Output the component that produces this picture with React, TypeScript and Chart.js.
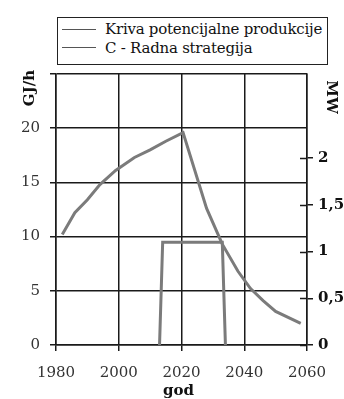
import React, { useEffect, useRef } from "react";
import { Chart, registerables } from "chart.js";

Chart.register(...registerables);

const potYears = [1982, 1986, 1990, 1994, 1999, 2005, 2010, 2015, 2020.5, 2028, 2033, 2038, 2042, 2046, 2050, 2058];
const potValues = [10.2, 12.2, 13.4, 14.8, 16.1, 17.3, 18.0, 18.8, 19.6, 12.6, 9.3, 6.8, 5.2, 4.1, 3.1, 2.0];
const stratYears = [2013, 2014, 2033, 2034];
const stratValues = [0, 1.1, 1.1, 0];
const xTicks = [1980, 2000, 2020, 2040, 2060];
const mwTicks = [0, 0.5, 1, 1.5, 2];
const legendLabels = ["Kriva potencijalne produkcije", "C - Radna strategija"];

const SERIF = "'DejaVu Serif', 'Liberation Serif', serif";
const GRID = "#1a1a1a";
const LINE = "#7b7b7b";

const titlesPlugin = {
  id: "titles",
  afterDraw(chart: any) {
    const ctx = chart.ctx;
    const area = chart.chartArea;
    ctx.save();
    ctx.fillStyle = "#111";
    ctx.font = `bold 15px ${SERIF}`;
    ctx.textAlign = "center";
    ctx.textBaseline = "middle";
    ctx.save();
    ctx.translate(30, 88);
    ctx.rotate(-Math.PI / 2);
    ctx.fillText("GJ/h", 0, 0);
    ctx.restore();
    ctx.save();
    ctx.translate(331, 97);
    ctx.rotate(Math.PI / 2);
    ctx.fillText("MW", 0, 0);
    ctx.restore();
    ctx.fillText("god", (area.left + area.right) / 2 - 3, 391);
    const y1 = chart.scales.y1;
    ctx.strokeStyle = GRID;
    ctx.lineWidth = 1.5;
    ctx.beginPath();
    for (const v of mwTicks) {
      const py = Math.round(y1.getPixelForValue(v)) + 0.5;
      ctx.moveTo(area.right - 7, py);
      ctx.lineTo(area.right, py);
    }
    ctx.stroke();
    ctx.restore();
  },
};

export default function App() {
  const ref = useRef<HTMLCanvasElement | null>(null);
  useEffect(() => {
    document.body.style.margin = "0";
    document.body.style.overflow = "hidden";
    const canvas = ref.current!;
    const chart = new Chart(canvas, {
      type: "line",
      data: {
        datasets: [
          {
            label: legendLabels[0],
            data: potYears.map((x, i) => ({ x, y: potValues[i] })),
            yAxisID: "y",
            borderColor: LINE,
            borderWidth: 3,
            pointRadius: 0,
            tension: 0,
          },
          {
            label: legendLabels[1],
            data: stratYears.map((x, i) => ({ x, y: stratValues[i] })),
            yAxisID: "y1",
            borderColor: LINE,
            borderWidth: 3,
            pointRadius: 0,
            tension: 0,
          },
        ],
      },
      options: {
        animation: false,
        responsive: false,
        layout: { padding: { top: 74, left: 0, right: 0, bottom: 0 } },
        plugins: { legend: { display: false }, tooltip: { enabled: false } },
        scales: {
          x: {
            type: "linear",
            min: 1980,
            max: 2060,
            afterBuildTicks: (s: any) => {
              s.ticks = xTicks.map((v) => ({ value: v }));
            },
            afterFit: (s: any) => {
              s.height = 54;
            },
            ticks: {
              color: "#333",
              font: { family: SERIF, size: 15 },
              padding: 13,
              maxRotation: 0,
              callback: (v: any) => String(v),
            },
            grid: { color: GRID, lineWidth: 1.5, tickLength: 6 },
            border: { color: GRID, width: 1.5 },
          },
          y: {
            position: "left",
            min: 0,
            max: 25,
            ticks: {
              stepSize: 5,
              color: "#333",
              font: { family: SERIF, size: 15 },
              padding: 10,
              callback: (v: any) => (v === 25 ? "" : String(v)),
            },
            afterFit: (s: any) => {
              s.width = 56;
            },
            grid: { color: GRID, lineWidth: 1.5, tickLength: 6 },
            border: { color: GRID, width: 1.5 },
          },
          y1: {
            position: "right",
            min: 0,
            max: 2.9,
            afterBuildTicks: (s: any) => {
              s.ticks = mwTicks.map((v) => ({ value: v }));
            },
            afterFit: (s: any) => {
              s.width = 37;
            },
            ticks: {
              color: "#111",
              font: { family: SERIF, size: 15, weight: "bold" },
              padding: 5,
              callback: (v: any) => String(v).replace(".", ","),
            },
            grid: { drawOnChartArea: false, color: GRID, lineWidth: 1.5, tickLength: 6 },
            border: { color: GRID, width: 1.5 },
          },
        },
      },
      plugins: [titlesPlugin],
    } as any);
    return () => chart.destroy();
  }, []);

  const legendRow = (label: string) => (
    <div style={{ display: "flex", alignItems: "center", height: 18.5 }}>
      <span style={{ display: "inline-block", width: 34, height: 0, borderTop: "1.5px solid #555", marginLeft: 4, marginRight: 9 }} />
      <span style={{ whiteSpace: "nowrap", letterSpacing: "-0.25px" }}>{label}</span>
    </div>
  );

  return (
    <div style={{ position: "relative", width: 344, height: 399 }}>
      <canvas ref={ref} width={344} height={399} style={{ display: "block" }} />
      <div
        style={{
          position: "absolute",
          left: 57,
          top: 17,
          width: 269,
          height: 44,
          border: "1.5px solid #222",
          fontFamily: SERIF,
          fontSize: 15,
          color: "#111",
          paddingTop: 2,
          lineHeight: "18px",
          background: "#fff",
        }}
      >
        {legendRow(legendLabels[0])}
        {legendRow(legendLabels[1])}
      </div>
    </div>
  );
}
